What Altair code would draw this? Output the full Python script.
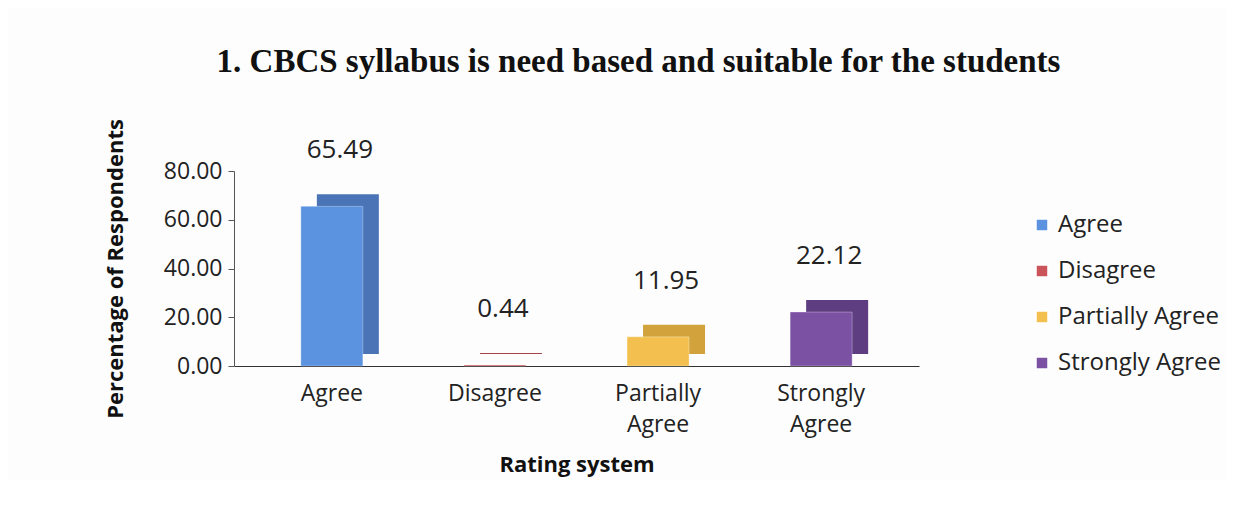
import altair as alt
import pandas as pd

categories = ["Agree", "Disagree", "Partially Agree", "Strongly Agree"]
values = [65.49, 0.44, 11.95, 22.12]
front_colors = ["#5B93E0", "#C9545A", "#F3C04F", "#7B52A3"]
side_colors = ["#4A74B5", "#A5424A", "#D2A33C", "#5E3E80"]

df = pd.DataFrame({"Rating": categories, "Value": values,
                   "Side": side_colors})

FONT = "Open Sans"

x = alt.X("Rating:N", sort=categories, title="Rating system",
          scale=alt.Scale(paddingInner=0.6, paddingOuter=0.4),
          axis=alt.Axis(labelAngle=0, labelExpr="split(datum.label, ' ')",
                        labelFont=FONT, labelFontSize=23, labelColor="#222",
                        labelPadding=16, ticks=False, domainColor="#333",
                        titleFont=FONT, titleFontSize=22, titleFontWeight="bold",
                        titleColor="#111", titlePadding=18, labelLineHeight=31))
y = alt.Y("Value:Q", title="Percentage of Respondents",
          scale=alt.Scale(domain=[0, 80]),
          axis=alt.Axis(values=[0, 20, 40, 60, 80], format=".2f", grid=False,
                        labelFont=FONT, labelFontSize=23, labelColor="#222",
                        domainColor="#555", tickColor="#555", tickSize=6,
                        labelPadding=6, titleFont=FONT, titleFontSize=22,
                        titleFontWeight="bold", titleColor="#111", titlePadding=36))

color = alt.Color("Rating:N", sort=categories,
                  scale=alt.Scale(domain=categories, range=front_colors),
                  legend=alt.Legend(title=None, orient="none", legendX=796, legendY=42,
                                    symbolType="square", symbolSize=144,
                                    labelFont=FONT, labelFontSize=24,
                                    labelColor="#222", rowPadding=22, labelLimit=300))

side = alt.Chart(df).mark_bar(size=62, xOffset=16, yOffset=-12).encode(
    x=x, y=y, fill=alt.Fill("Side:N", scale=None, legend=None))
front = alt.Chart(df).mark_bar(size=62, stroke="#ffffff", strokeOpacity=0.3).encode(
    x=x, y=y, color=color)
labels = alt.Chart(df).mark_text(dy=-56, dx=8, font=FONT, fontSize=26,
                                 color="#222").encode(
    x=x, y=y, text=alt.Text("Value:Q", format=".2f"))

chart = alt.layer(side, front, labels).properties(
    width=685, height=195,
    title=alt.TitleParams("1. CBCS syllabus is need based and suitable for the students",
                          font="Liberation Serif", fontSize=33, fontWeight="bold",
                          color="#111", anchor="middle", offset=40, dx=62),
    padding={"left": 96, "top": 37, "right": 5, "bottom": 5},
).configure(background="#fdfdfd", view=alt.ViewConfig(stroke=None))

chart.save("out.html", embed_options={"renderer": "svg", "actions": False})
